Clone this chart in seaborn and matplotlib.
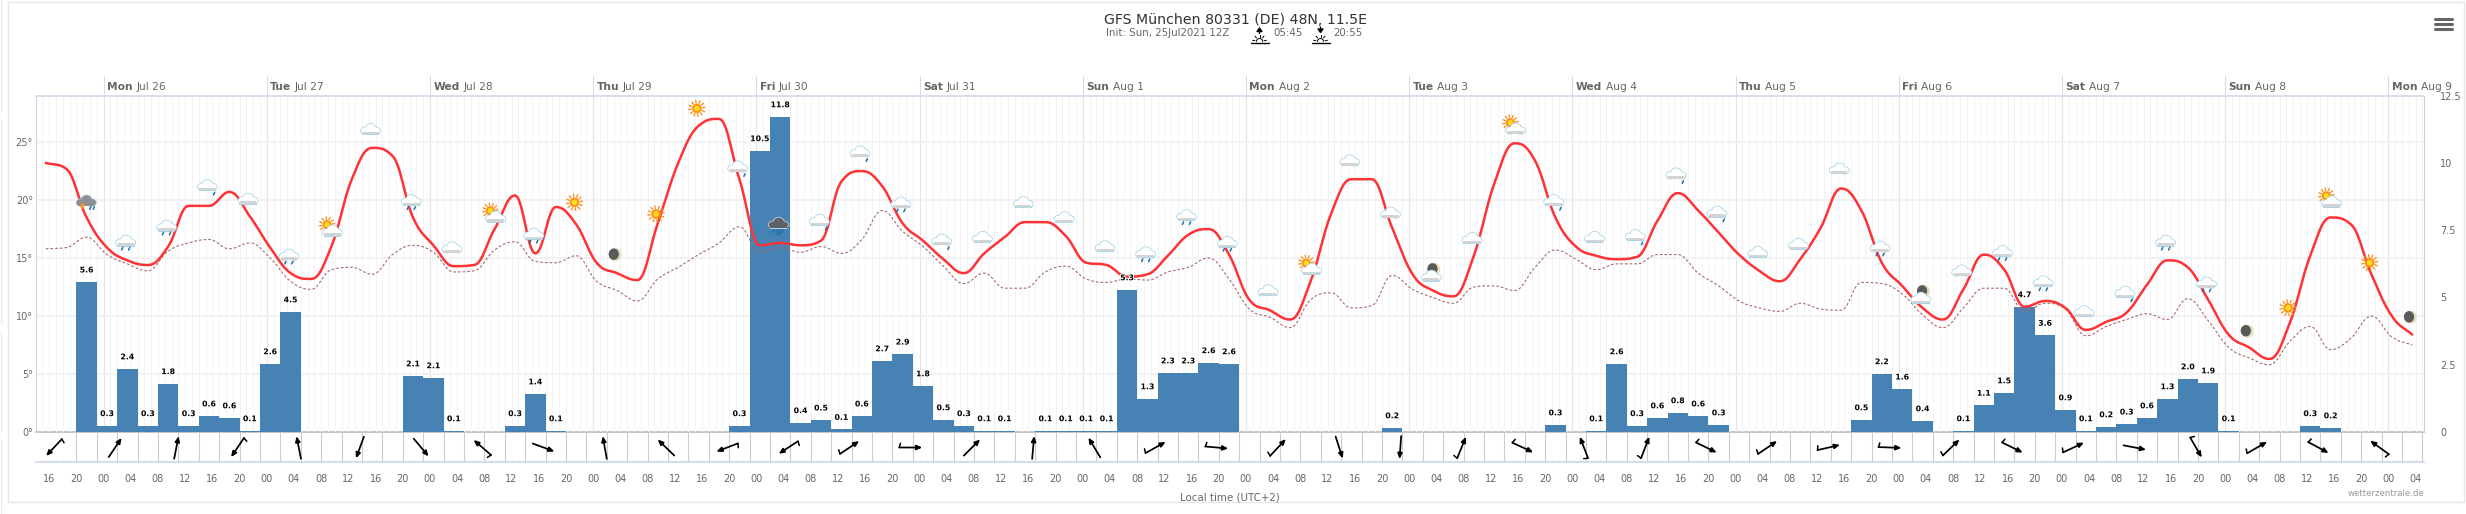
import numpy as np
import matplotlib
matplotlib.use("Agg")
import matplotlib.pyplot as plt
import matplotlib.patheffects as pe
from matplotlib.patches import Ellipse, Rectangle, Polygon
import seaborn as sns

# ---------- data ----------
temperature = [23.2,22.7,18.5,15.9,14.8,14.4,16.0,19.5,19.5,20.7,18.6,15.9,13.7,13.2,16.0,21.8,24.5,23.8,18.5,16.1,
               14.3,14.4,17.5,20.4,15.4,19.4,17.9,14.6,13.7,13.1,18.0,23.2,26.4,27.0,21.8,16.1,16.3,16.1,16.5,21.6,
               22.5,21.2,18.0,16.5,14.9,13.7,15.4,16.8,18.1,18.1,16.9,14.6,14.4,13.4,13.6,15.2,17.0,17.5,15.3,11.4,
               10.5,9.7,13.0,18.8,21.8,21.8,17.6,13.6,12.2,11.7,15.2,21.4,24.9,23.4,18.5,16.0,15.2,14.9,15.1,18.2,
               20.6,19.1,17.2,15.3,13.9,13.0,14.9,17.6,21.0,19.1,14.6,12.6,10.7,9.7,12.3,15.3,14.0,10.8,11.3,10.7,
               8.8,9.5,10.3,12.7,14.8,14.2,11.4,8.4,7.3,6.3,9.4,15.2,18.5,17.9,13.6,10.0,8.4]
dewpoint = [15.8,15.9,16.8,15.3,14.5,13.9,15.6,16.3,16.6,15.8,16.3,15.0,13.0,12.3,14.0,14.2,13.6,15.3,16.1,15.5,
            13.8,13.9,15.7,16.4,14.7,14.6,15.2,13.0,12.2,11.3,13.2,14.2,15.3,16.3,17.7,15.5,15.9,15.5,16.0,15.4,
            16.6,19.1,17.3,16.0,14.3,12.8,13.7,12.4,12.4,13.8,14.3,13.2,12.9,13.2,13.1,13.8,14.2,15.0,13.2,10.6,
            9.9,9.0,11.4,12.0,10.7,10.9,13.5,12.3,11.6,11.1,12.5,12.6,12.2,14.2,15.7,14.9,14.0,14.5,14.5,15.3,
            15.3,13.7,12.6,11.3,10.7,10.4,11.1,10.6,10.5,12.9,12.8,11.9,10.1,9.0,10.7,12.4,12.4,10.4,11.1,10.6,
            8.3,9.1,9.7,10.2,9.7,11.5,9.6,7.3,6.4,5.8,7.8,9.1,7.1,8.1,10.0,8.2,7.5]
precip = [5.58,.24,2.35,.24,1.8,.24,.6,.53,.05,2.54,4.47,0,0,0,0,0,2.09,2.02,.05,0,0,.24,1.42,.05,0,0,0,0,0,0,0,0,
          .24,10.46,11.72,.35,.45,.1,.6,2.65,2.9,1.72,.46,.24,.05,.05,0,.05,.05,.05,.05,5.29,1.24,2.2,2.2,2.58,2.54,
          0,0,0,0,0,0,0,.16,0,0,0,0,0,0,0,.27,0,.05,2.54,.24,.53,.72,.6,.27,0,0,0,0,0,0,.46,2.17,1.6,.42,0,.05,1.0,
          1.46,4.66,3.6,.83,.05,.2,.3,.53,1.24,1.98,1.83,.05,0,0,0,.24,.16]
precip_labels = [5.6,.3,2.4,.3,1.8,.3,.6,.6,.1,2.6,4.5,0,0,0,0,0,2.1,2.1,.1,0,0,.3,1.4,.1,0,0,0,0,0,0,0,0,
                 .3,10.5,11.8,.4,.5,.1,.6,2.7,2.9,1.8,.5,.3,.1,.1,0,.1,.1,.1,.1,5.3,1.3,2.3,2.3,2.6,2.6,
                 0,0,0,0,0,0,0,.2,0,0,0,0,0,0,0,.3,0,.1,2.6,.3,.6,.8,.6,.3,0,0,0,0,0,0,.5,2.2,1.6,.4,0,.1,1.1,
                 1.5,4.7,3.6,.9,.1,.2,.3,.6,1.3,2.0,1.9,.1,0,0,0,.3,.2]
icon_kinds = ["storm","rain2","rain2","rain1","cloud","rain2","partly","cloud","rain2","cloud",
              "partly","rain2","sun","moon","sun","sun","rain1","dark","rain1","rain1",
              "rain2","rain1","cloud","cloud","cloud","cloud","rain2","rain2","rain2","cloud",
              "partly","cloud","cloud","mooncloud","cloud","partly","rain1","cloud","rain1","rain1",
              "rain1","cloud","cloud","cloud","rain2","mooncloud","cloud","rain2","rain2","cloud",
              "rain1","rain2","rain2","moon","sun","partly","sun","moon"]
icon_levels = [19.8,16.3,17.6,21.1,20.1,15.1,17.6,26.1,19.8,15.9,
               18.8,16.9,19.8,15.3,18.8,27.9,22.7,17.8,18.1,24.0,
               19.6,16.4,16.8,19.8,18.5,16.0,15.3,18.5,16.2,12.2,
               14.3,23.4,18.9,13.8,16.7,26.4,19.8,16.8,16.8,22.1,
               18.8,15.5,16.2,22.7,15.8,11.9,13.9,15.4,12.8,10.4,
               11.9,16.3,12.7,8.7,10.7,20.1,14.6,9.9]
wind_dir = [223,34,11,214,349,200,140,311,110,350,314,249,237,56,90,45,5,329,61,95,43,162,184,22,115,339,21,116,
            56,77,92,46,116,65,101,150,60,118,306]
wind_barb = [1,0,0,1,0,0,0,1,0,0,0,1,1,1,1,0,0,0,1,1,1,0,0,1,1,1,1,1,1,1,1,1,1,1,0,1,1,1,1]
day_names = ["Mon","Tue","Wed","Thu","Fri","Sat","Sun","Mon","Tue","Wed","Thu","Fri","Sat","Sun","Mon"]
day_dates = ["Jul 26","Jul 27","Jul 28","Jul 29","Jul 30","Jul 31","Aug 1","Aug 2","Aug 3","Aug 4","Aug 5",
             "Aug 6","Aug 7","Aug 8","Aug 9"]
temp_ticks = [0,5,10,15,20,25]
rain_ticks = [0,2.5,5,7.5,10,12.5]

# ---------- figure ----------
sns.set_theme(style="white")
plt.rcParams["font.family"] = ["DejaVu Sans"]
W, H = 2466, 514
L, R, TOP, ZERO, BOT = 36, 2424, 95.7, 432, 462
fig = plt.figure(figsize=(W/100, H/100), dpi=100, facecolor="white")
ax = fig.add_axes([L/W, 1-ZERO/H, (R-L)/W, (ZERO-TOP)/H])
ax2 = ax.twinx()
axw = fig.add_axes([L/W, 1-BOT/H, (R-L)/W, (BOT-ZERO)/H])
over = fig.add_axes([0, 0, 1, 1])
over.set_xlim(0, W); over.set_ylim(H, 0); over.axis("off")
over.set_zorder(6); over.patch.set_visible(False)
ax.set_zorder(3); ax.patch.set_visible(False); ax2.set_zorder(2)

t0 = -8.5
XMIN, XMAX = (L-103.6)/6.8, (R-103.6)/6.8
TMAX, RMAX = 29.0, 12.5
hours = t0 + 3*np.arange(len(temperature))
sx = (XMAX-XMIN)/(R-L); sy = TMAX/(ZERO-TOP)


def spline(x, y, n=14):
    """Highcharts-like spline between the read values."""
    x = np.asarray(x, float); y = np.asarray(y, float)
    m = len(x)
    lc, rc = np.zeros(m), np.zeros(m)
    lx, rx = np.zeros(m), np.zeros(m)
    for i in range(m):
        a = max(i-1, 0); b = min(i+1, m-1)
        lx[i] = (1.5*x[i]+x[a])/2.5; rx[i] = (1.5*x[i]+x[b])/2.5
        lc[i] = (1.5*y[i]+y[a])/2.5; rc[i] = (1.5*y[i]+y[b])/2.5
        if rx[i] != lx[i]:
            c = (rc[i]-lc[i])*(rx[i]-x[i])/(rx[i]-lx[i]) + y[i] - rc[i]
            lc[i] += c; rc[i] += c
        if lc[i] > y[a] and lc[i] > y[i]:
            d = lc[i]-max(y[a], y[i]); lc[i] -= d; rc[i] += d
        elif lc[i] < y[a] and lc[i] < y[i]:
            d = min(y[a], y[i])-lc[i]; lc[i] += d; rc[i] -= d
        if rc[i] > y[b] and rc[i] > y[i]:
            d = rc[i]-max(y[b], y[i]); rc[i] -= d; lc[i] += d
        elif rc[i] < y[b] and rc[i] < y[i]:
            d = min(y[b], y[i])-rc[i]; rc[i] += d; lc[i] -= d
    s = np.linspace(0, 1, n, endpoint=False)[:, None]
    def bez(p, c1, c2, q):
        return (1-s)**3*p + 3*(1-s)**2*s*c1 + 3*(1-s)*s**2*c2 + s**3*q
    xs = [bez(x[i], rx[i], lx[i+1], x[i+1]).ravel() for i in range(m-1)]
    ys = [bez(y[i], rc[i], lc[i+1], y[i+1]).ravel() for i in range(m-1)]
    return np.r_[np.concatenate(xs), x[-1]], np.r_[np.concatenate(ys), y[-1]]

# grid (under the bars)
hr = np.arange(np.ceil(XMIN), XMAX+.1)
ax2.vlines(hr, 0, RMAX, color="#f3f3f3", lw=0.7, zorder=0)
ax2.vlines(np.arange(0, XMAX, 24), 0, RMAX, color="#e6e6e6", lw=0.9, zorder=0.1)
ax2.hlines(np.array(temp_ticks[1:])*RMAX/TMAX, XMIN, XMAX, color="#f0f0f0", lw=1.2, zorder=0.2)

# bars
bar_t = hours[2:2+len(precip)]
sns.barplot(x=bar_t, y=precip, native_scale=True, ax=ax2, color="#4682b4", saturation=1, width=1,
            linewidth=0, legend=False, zorder=1)
ax2.set_xlabel(""); ax2.set_ylabel("")

# lines
dx, dy = spline(hours, dewpoint)
sns.lineplot(x=dx, y=dy, ax=ax, color="#a86a70", lw=0.8, linestyle=(0, (2.4, 1.8)), sort=False,
             estimator=None, errorbar=None, legend=False)
tx, ty = spline(hours, temperature)
sns.lineplot(x=tx, y=ty, ax=ax, color="#ff3236", lw=1.8, sort=False, estimator=None, errorbar=None, legend=False)
ax.set_xlabel(""); ax.set_ylabel("")

# bar labels
for t, p, lab in zip(bar_t, precip, precip_labels):
    if lab > 0:
        ax.annotate(f"{lab:.1f}", xy=(t, p), xycoords=ax2.transData, xytext=(0, 8.6), textcoords="offset points",
                    ha="center", va="center", fontsize=5.6, fontweight="bold", color="black", zorder=9,
                    path_effects=[pe.withStroke(linewidth=1.2, foreground="white")])


# icons
def ell(cx, cy, w, h, c, z):
    ax.add_patch(Ellipse((cx, cy), w*sx, h*sy, fc=c, ec="none", zorder=z, clip_on=False))

def rect(x0, y0, w, h, c, z):
    ax.add_patch(Rectangle((x0, y0), w*sx, h*sy, fc=c, ec="none", zorder=z, clip_on=False))

def cloud(cx, cy, body="white", edge="#a6d5ec", band="#d4d4d4"):
    parts = [(-5.3, -1.6, 8.5, 6.6), (5.2, -1.6, 8.8, 6.6), (0.2, 0.6, 10.5, 9.6)]
    for px, py, w, h in parts:
        ell(cx+px*sx, cy+py*sy, w+1.6, h+1.6, edge, 6)
    rect(cx-8.8*sx, cy-5.6*sy, 17.6, 3.5, edge, 6)
    for px, py, w, h in parts:
        ell(cx+px*sx, cy+py*sy, w, h, body, 6.1)
    rect(cx-8.2*sx, cy-4.9*sy, 16.4, 2.4, band, 6.2)

def drops(cx, cy, offs, c="#1f6fa8"):
    for o in offs:
        ax.plot([cx+(o+.6)*sx, cx+(o-.6)*sx], [cy, cy-2.6*sy], color=c, lw=1.1, zorder=6.3, clip_on=False,
                solid_capstyle="round")

def sun(cx, cy, k=1.0):
    for a in np.deg2rad(np.arange(0, 360, 30)+8):
        ax.plot([cx+5.4*k*np.cos(a)*sx, cx+8.3*k*np.cos(a)*sx], [cy+5.4*k*np.sin(a)*sy, cy+8.3*k*np.sin(a)*sy],
                color="#ff8c10", lw=0.9, zorder=5.6, clip_on=False)
    ell(cx, cy, 9.4*k, 9.4*k, "#ff8c10", 5.7)
    ell(cx, cy, 5.8*k, 5.8*k, "#ffdc1e", 5.8)

def moon(cx, cy):
    ell(cx, cy, 12.8, 13.2, "#e4e0bc", 5.7)
    ell(cx-1.5*sx, cy+.4*sy, 10.2, 11.4, "#5a5a5a", 5.8)

for j, (kind, lev) in enumerate(zip(icon_kinds, icon_levels)):
    c = hours[2+2*j] - 0.25
    if kind == "cloud":
        cloud(c, lev)
    elif kind == "rain1":
        cloud(c, lev+2*sy); drops(c+1, lev-5*sy, [0])
    elif kind == "rain2":
        cloud(c, lev+2*sy); drops(c, lev-4.4*sy, [-3.5, 3.5])
    elif kind == "storm":
        cloud(c+.2, lev+1.5*sy, body="#8b8f95", edge="#a9c4d2", band="#8b8f95")
        drops(c+.5, lev-4.4*sy, [2, 5.5])
        ax.add_patch(Polygon([(c-3.4*sx, lev-1*sy), (c-.2*sx, lev-1*sy), (c-2*sx, lev-4*sy), (c-.8*sx, lev-4*sy),
                              (c-4*sx, lev-9*sy), (c-3*sx, lev-5*sy), (c-4.6*sx, lev-5*sy)],
                             fc="#ff9a10", ec="none", zorder=6.4, clip_on=False))
    elif kind == "dark":
        cloud(c, lev+2.5*sy, body="#5c6067", edge="#c8d4dc", band="#5c6067")
        drops(c, lev-4*sy, [-5, -2, 1, 4]); drops(c, lev-7*sy, [-1, 2])
    elif kind == "sun":
        sun(c, lev)
    elif kind == "moon":
        moon(c, lev)
    elif kind == "partly":
        sun(c-2.6*sx, lev+3.2*sy, .95); cloud(c+2.7*sx, lev-3*sy)
    elif kind == "mooncloud":
        moon(c+2.7*sx, lev+2.7*sy); cloud(c, lev-4*sy)

# wind panel
axw.set_xlim(XMIN, XMAX); axw.set_ylim(BOT-ZERO, 0)
axw.vlines(np.arange(-4, XMAX, 3), 0, BOT-ZERO, color="#cccccc", lw=0.8, zorder=1)
for j, (d, b) in enumerate(zip(wind_dir, wind_barb)):
    a = np.deg2rad(d)
    ux, uy = np.sin(a), -np.cos(a)   # pixel direction, y down
    cx, cy = -7.3+9*j, 15.5
    ln = 11.5
    tail = (cx-ln*ux*sx, cy-ln*uy); tip = (cx+ln*ux*sx, cy+ln*uy)
    axw.annotate("", xy=tip, xytext=tail, zorder=3, annotation_clip=False,
                 arrowprops=dict(arrowstyle="-|>,head_length=0.45,head_width=0.2", mutation_scale=7, color="black",
                                 lw=1.25, shrinkA=0, shrinkB=0))
    if b:
        axw.plot([tail[0], tail[0]+(4.2*uy+1.2*ux)*sx], [tail[1], tail[1]-4.2*ux+1.2*uy], color="black", lw=1.1,
                 zorder=3, clip_on=False)
axw.set_xticks(np.arange(-8, XMAX, 4))
axw.set_xticklabels([f"{(16+4*k) % 24:02d}" for k in range(len(np.arange(-8, XMAX, 4)))])
axw.set_xticks(hr, minor=True)
axw.tick_params(axis="x", which="major", direction="in", length=1.8, width=0.7, color="#d4dcee", pad=8.7,
                labelsize=7, labelcolor="#666666", bottom=True)
axw.tick_params(axis="x", which="minor", direction="in", length=1.8, width=0.7, color="#d4dcee", bottom=True)
axw.set_yticks([])
axw.patch.set_visible(False)
for s, sp in axw.spines.items():
    sp.set_visible(s in ("bottom", "top"))
axw.spines["bottom"].set(color="#ccd6eb", lw=1.2)
axw.spines["top"].set(color="#c0c0c0", lw=1.3)

# main axes
ax.set_xlim(XMIN, XMAX); ax.set_ylim(0, TMAX)
ax2.set_xlim(XMIN, XMAX); ax2.set_ylim(0, RMAX)
ax.set_xticks([]); ax2.set_xticks([])
ax.set_yticks(temp_ticks); ax.set_yticklabels([f"{v}°" for v in temp_ticks])
ax.tick_params(axis="y", length=0, pad=2.2, labelsize=7, labelcolor="#666666")
ax2.set_yticks(rain_ticks); ax2.set_yticklabels([f"{v:g}" for v in rain_ticks])
ax2.tick_params(axis="y", length=0, pad=11.5, labelsize=7, labelcolor="#666666")
for a in (ax, ax2):
    for s, sp in a.spines.items():
        sp.set_visible(False)
over.plot([L, R], [TOP, TOP], color="#ccd6eb", lw=1.1)
over.plot([L, L], [TOP, ZERO], color="#ccd6eb", lw=0.8)
over.plot([R, R], [TOP, ZERO], color="#d0d0d0", lw=0.8)

# day ticks and labels
for d, (nm, dt) in enumerate(zip(day_names, day_dates)):
    xp = 103.6+24*d*6.8
    over.plot([xp, xp], [76, TOP], color="#d4dcee", lw=0.8)
    t1 = over.text(xp+3.5, 87, nm, fontsize=7.7, fontweight="bold", color="#666666", va="center", ha="left")
    over.annotate(dt, xy=(1, .5), xycoords=t1, xytext=(2.5, 0), textcoords="offset points", fontsize=7.7,
                  color="#666666", va="center", ha="left")

# title block
over.text(1236, 20, "GFS München 80331 (DE) 48N, 11.5E", ha="center", va="center", fontsize=10.2, color="#333333")
sub_kw = dict(va="center", ha="left", fontsize=7.4, color="#666666")
over.text(1105.5, 33.5, "Init: Sun, 25Jul2021 12Z", **sub_kw)
over.text(1273, 33.5, "05:45", **sub_kw)
over.text(1333, 33.5, "20:55", **sub_kw)


def sun_mark(cx, up):
    over.plot([cx-9, cx+9], [43.4, 43.4], color="black", lw=1)
    ang = np.linspace(0, np.pi, 20)
    over.plot(cx+3*np.cos(ang), 41.5-3*np.sin(ang), color="black", lw=0.7)
    for a in np.deg2rad([10, 50, 90, 130, 170]):
        over.plot([cx+4.6*np.cos(a), cx+7*np.cos(a)], [41.5-4.6*np.sin(a), 41.5-7*np.sin(a)], color="black", lw=0.7)
    over.annotate("", xy=(cx, 27 if up else 33.5), xytext=(cx, 33.5 if up else 27),
                  arrowprops=dict(arrowstyle="-|>,head_length=0.4,head_width=0.3", mutation_scale=6, color="black",
                                  lw=1, shrinkA=0, shrinkB=0))

sun_mark(1259.5, True)
sun_mark(1320.5, False)

# axis title, credit, menu
over.text(1230, 497, "Local time (UTC+2)", ha="center", va="center", fontsize=7.4, color="#666666")
over.text(R, 494, "wetterzentrale.de", ha="right", va="center", fontsize=6.2, color="#999999")
for yy in (18.5, 23.5, 28.5):
    over.plot([2434.5, 2451.5], [yy, yy], color="#666666", lw=2.2, solid_capstyle="round")

# chart frame
c = "#e6e6e6"
over.plot([8, 2464, 2464, 8, 8], [1.5, 1.5, 502, 502, 1.5], color=c, lw=1.0)
for y0, y1 in ((0, 112), (120, 324), (332, 432), (440, 514)):
    over.plot([1, 1], [y0, y1], color="#ececec", lw=0.9)

fig.savefig("out.png", dpi=100)
